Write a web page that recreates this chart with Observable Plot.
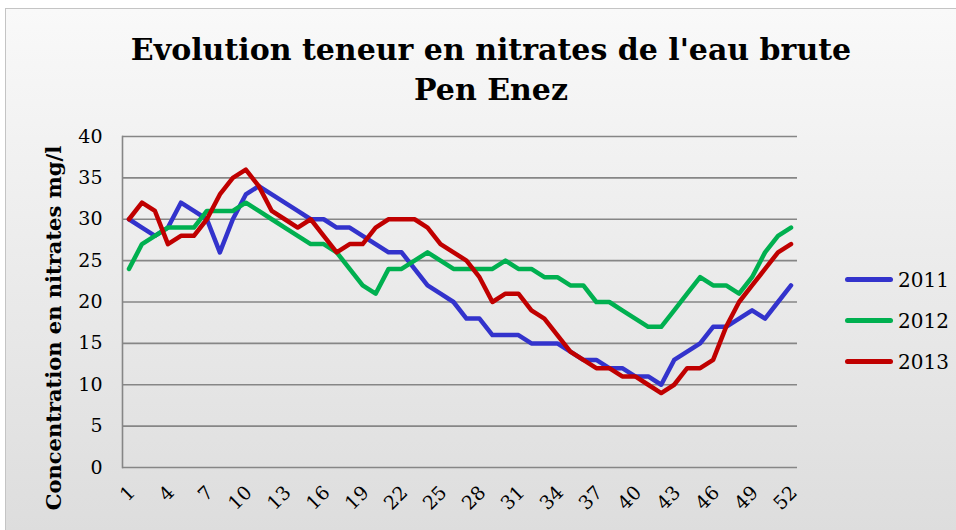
<!DOCTYPE html>
<html>
<head>
<meta charset="utf-8">
<script src="https://cdn.jsdelivr.net/npm/d3@7"></script>
<script src="https://cdn.jsdelivr.net/npm/@observablehq/plot@0.6"></script>
<style>
  html, body { margin: 0; padding: 0; background: #ffffff; width: 956px; height: 530px; overflow: hidden; }
  #frame { position: absolute; left: 5px; top: 8px; width: 980px; height: 560px; border: 1px solid #c4c4c4; background: linear-gradient(#f9f9f9, #dbdbdb); }
  #title { position: absolute; left: 0; top: 30px; width: 982px; text-align: center; font-family: 'DejaVu Serif', serif; font-weight: bold; font-size: 30px; line-height: 40px; color: #000; }
  #chart { position: absolute; left: 0; top: 110px; }
  #ylabel { position: absolute; left: 53px; top: 328px; transform: translate(-50%, -50%) rotate(-90deg); white-space: nowrap; font-family: 'DejaVu Serif', serif; font-weight: bold; font-size: 21px; color: #000; }
  #legend { position: absolute; left: 845px; top: 259px; font-family: 'DejaVu Serif', serif; font-size: 20px; color: #000; }
  .item { display: flex; align-items: center; height: 41px; }
  .swatch { width: 48px; height: 5px; border-radius: 3px; margin-right: 5px; }
</style>
</head>
<body>
<div id="frame"></div>
<div id="title">Evolution teneur en nitrates de l'eau brute<br>Pen Enez</div>
<div id="chart"></div>
<div id="ylabel"></div>
<div id="legend"></div>
<script>
const weeks = [1,2,3,4,5,6,7,8,9,10,11,12,13,14,15,16,17,18,19,20,21,22,23,24,25,26,27,28,29,30,31,32,33,34,35,36,37,38,39,40,41,42,43,44,45,46,47,48,49,50,51,52];
const years = ["2011", "2012", "2013"];
const colors = ["#3333cc", "#00b050", "#c00000"];
const y2011 = [30,29,28,29,32,31,30,26,30,33,34,33,32,31,30,30,29,29,28,27,26,26,24,22,21,20,18,18,16,16,16,15,15,15,14,13,13,12,12,11,11,10,13,14,15,17,17,18,19,18,20,22];
const y2012 = [24,27,28,29,29,29,31,31,31,32,31,30,29,28,27,27,26,24,22,21,24,24,25,26,25,24,24,24,24,25,24,24,23,23,22,22,20,20,19,18,17,17,19,21,23,22,22,21,23,26,28,29];
const y2013 = [30,32,31,27,28,28,30,33,35,36,34,31,30,29,30,28,26,27,27,29,30,30,30,29,27,26,25,23,20,21,21,19,18,16,14,13,12,12,11,11,10,9,10,12,12,13,17,20,22,24,26,27];
const xTicks = [1,4,7,10,13,16,19,22,25,28,31,34,37,40,43,46,49,52];
const yTicks = [0,5,10,15,20,25,30,35,40];
const yLabel = "Concentration en nitrates mg/l";

const series = [y2011, y2012, y2013];
const data = [];
years.forEach((yr, i) => weeks.forEach((w, j) => data.push({year: yr, week: w, value: series[i][j]})));

const plot = Plot.plot({
  width: 956,
  height: 420,
  marginTop: 26,
  marginBottom: 63,
  marginLeft: 122,
  marginRight: 159,
  style: { fontFamily: "'DejaVu Serif', serif", fontSize: "19px", background: "transparent", color: "#000" },
  x: { domain: [0.5, 52.5] },
  y: { domain: [0, 40] },
  color: { domain: years, range: colors },
  marks: [
    Plot.gridY(yTicks, { stroke: "#868686", strokeOpacity: 1, strokeWidth: 1.6 }),
    Plot.frame({ anchor: "left", stroke: "#868686", strokeWidth: 1.6 }),
    Plot.axisY({ ticks: yTicks, tickSize: 0, tickPadding: 20, fontSize: 19, label: null }),
    Plot.axisX({ ticks: xTicks, tickSize: 0, tickPadding: 22, tickRotate: -45, fontSize: 19, label: null, dx: 3 }),
    Plot.line(data, { x: "week", y: "value", z: "year", stroke: "year", strokeWidth: 4.5, strokeLinejoin: "round", strokeLinecap: "round" })
  ]
});
document.getElementById("chart").appendChild(plot);
document.getElementById("ylabel").textContent = yLabel;

const legend = document.getElementById("legend");
years.forEach((yr, i) => {
  const row = document.createElement("div");
  row.className = "item";
  row.innerHTML = `<div class="swatch" style="background:${colors[i]}"></div><span>${yr}</span>`;
  legend.appendChild(row);
});
</script>
</body>
</html>
